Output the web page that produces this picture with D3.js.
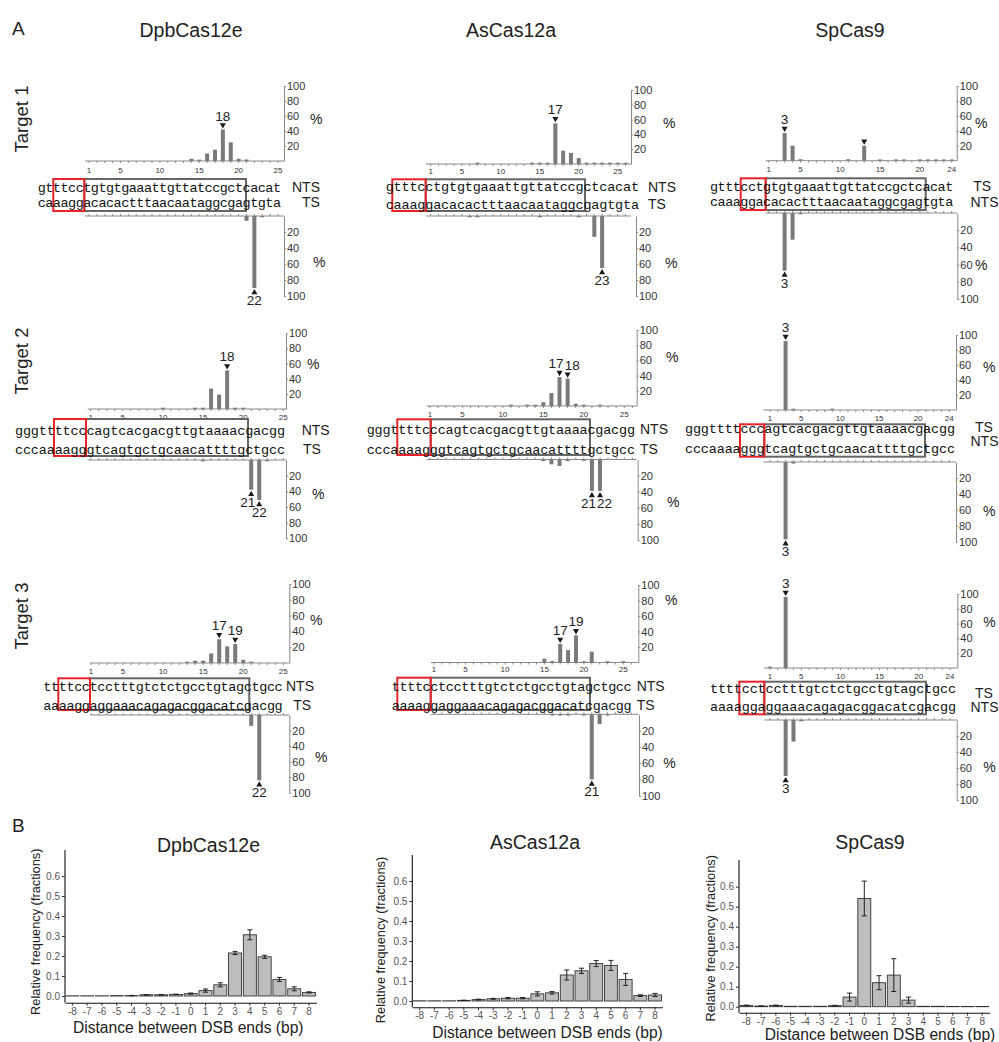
<!DOCTYPE html>
<html><head><meta charset="utf-8">
<script src="https://cdn.jsdelivr.net/npm/d3@7"></script>
<style>
body{margin:0;background:#fff}
text{font-family:"Liberation Sans",Arial,sans-serif;fill:#222}
.seq{font-family:"Liberation Mono","Courier New",monospace}
</style>
</head><body>
<svg id="c" width="999" height="1042"></svg>
<script>
// ---------------- DATA ----------------
const enzymes = ["DpbCas12e", "AsCas12a", "SpCas9"];
const targets = ["Target 1", "Target 2", "Target 3"];
const posTicksCas12 = [1, 5, 10, 15, 20, 25];
const posTicksCas9 = [1, 5, 10, 15, 20, 24];
const pctTicks = [20, 40, 60, 80, 100];

const t1Top = "gtttcctgtgtgaaattgttatccgctcacat";
const t1Bot = "caaaggacacactttaacaataggcgagtgta";
const t2Top = "gggttttcccagtcacgacgttgtaaaacgacgg";
const t2Bot = "cccaaaagggtcagtgctgcaacattttgctgcc";
const t3Top = "ttttcctcctttgtctctgcctgtagctgcc";
const t3Bot = "aaaaggaggaaacagagacggacatcgacgg";

// cleavage frequencies (%) by position, index 0 = position 1
const t1DpbTop = [0,0,0,0,0,0,0,0,0,0,0,0,0,3,1,10,15,42,25,3,2,0,0,0,0];
const t1DpbBot = [0,0,0,0,0,0,0,0,0,0,0,0,0,0,0,0,0,0,0,0,6,90,1,0,0];
const t1AsTop  = [0,0,0,0,0,0,0.3,0,0,0,0,0,0,0.3,0.5,0.5,55,18,15,8,1,1,1,0.5,0.5,1.5];
const t1AsBot  = [0,0,0,0,0,1,1,0,0,0,0,0,0,0,0.5,0,0,0,0,1,0,26,65,0,0,0];
const t1SpTop  = [0,0,37,20,2,0,0,0,0,0,2,0,20,0,1,0,1.5,1,0,1,1,1,1,1.5];
const t1SpBot  = [0,0,67,31,1,0,0,0,0,0,0,0,0,0,0,0,0,0,0,0,0,0,0,0];
const t2DpbTop = [0,0,0,0,0,0,0,0,0,0.5,0,0,0,0.5,0.5,27,19,51,0.5,0.5,0,0,0,0,0];
const t2DpbBot = [0,0,0,0,0,0,0,0,0,0,0,0,0,0,1,0,0,0,0,0,38,51,1,0,0];
const t2AsTop  = [0,0,0,0,0,0,0,0,0,0,0.5,0,0.5,1,5,17,38,36,3,0.5,0,0.5,0,0,0,0];
const t2AsBot  = [0,0,0,0,0,0,0,0,0,0,0,0,0,0,2,6,8,2,0,0.5,39,39,0,0,0,0];
const t2SpTop  = [0,0,92,1,0,0,0,0,1,0,0,0,0,0,0,0,0,0,0,0,0,0,0,0];
const t2SpBot  = [0,0,97,2,0,0,0,0,0,0,0,0,0,0,0,0,0,0,0,0,0,0,0,0];
const t3DpbTop = [0,0,0,0,0,0,0,0,0,0,0,0,0.5,3,3,12,30,21,24,4,0.5,0,0,0,0];
const t3DpbBot = [0,0,0,0,0,0,0,0,0,0,0,0,0,0,0,0,0,0,0,0,14,84,0,0,0];
const t3AsTop  = [0,0,0,0,0,0,0,0,0,0,0,0,0,0,5,2,24,16,35,1,14,0,0.3,0,0.3,0];
const t3AsBot  = [0,0,0,0,0,0,0,0,0,0,0,0,0,0,0,0.5,1,1,0,0.5,80,12,1.5,0,0,0];
const t3SpTop  = [0.5,0,96,0,0,0,0,0,0,0,0,0,0,0,0,0,0,0,0,0,0,0,0,0];
const t3SpBot  = [0,0,70,27,1,0,0,0,0,0,0,0,0,0,0,0,0,0,0,0,0,0,0,0];

// marked cleavage sites (with labels) and unlabeled marks
const markTop = [[18],[17],[3,13],[18],[17,18],[3],[17,19],[17,19],[3]];
const markBot = [[22],[23],[3],[21,22],[21,22],[3],[22],[21],[3]];
const unlabeledMarks = [13];

// Panel B
const distances = [-8,-7,-6,-5,-4,-3,-2,-1,0,1,2,3,4,5,6,7,8];
const bDpbMean = [0.001,0.001,0.001,0.002,0.002,0.006,0.006,0.008,0.012,0.027,0.056,0.215,0.306,0.196,0.083,0.036,0.018];
const bDpbErr  = [0,0,0,0,0.001,0.001,0.001,0.001,0.003,0.008,0.01,0.008,0.025,0.008,0.01,0.01,0.003];
const bAsMean  = [0.001,0.001,0.001,0.003,0.007,0.011,0.014,0.014,0.036,0.041,0.13,0.151,0.187,0.178,0.108,0.027,0.03];
const bAsErr   = [0,0,0,0.001,0.002,0.002,0.003,0.003,0.01,0.006,0.025,0.013,0.015,0.025,0.03,0.004,0.008];
const bSpMean  = [0.006,0.003,0.006,0.002,0.002,0.002,0.005,0.048,0.541,0.12,0.158,0.033,0.002,0.002,0.001,0.001,0.001];
const bSpErr   = [0.002,0.001,0.002,0,0,0,0.002,0.02,0.087,0.035,0.082,0.015,0,0,0,0,0];

// ---------------- LAYOUT ----------------
const layoutA = [
 {ax:284,axb:284,bx0:85,xr:[89,278],ty:[161,86],by:[216,296],ply:170,sx:[37.7,281],sy:[187,202],red:[53.3,84.3],gx1:246,box:[179,211],st:[[292,187],[302,202]],pt:[310,119],pb:[313,262]},
 {ax:631,axb:636,bx0:425.7,xr:[430.7,617.7],ty:[164,90],by:[216,296],ply:170.7,sx:[385.7,639],sy:[186.7,204],red:[392.3,425.7],gx1:585,box:[179.3,211],st:[[648,186.7],[648,204]],pt:[663,122.7],pb:[665,263]},
 {ax:956.7,axb:957.3,bx0:765.7,xr:[768.7,951.7],ty:[160.7,86],by:[213,299],ply:169,sx:[710,953.3],sy:[186,201.7],red:[740.7,765.7],gx1:925.7,box:[178.3,210],st:[[973.3,186],[970.5,201.7]],pt:[975,123.3],pb:[975,265]},
 {ax:286,axb:286,bx0:87.7,xr:[90.7,283.3],ty:[409,333.3],by:[460,538.3],ply:416.7,sx:[15,285],sy:[430,449.3],red:[54,86],gx1:248,box:[419,456],st:[[301.7,430],[303,449.3]],pt:[307,364],pb:[312,494]},
 {ax:636.7,axb:637.7,bx0:426.7,xr:[430,624.3],ty:[406,330],by:[459.5,540],ply:414.3,sx:[366.7,635],sy:[429.3,449.3],red:[397.3,430.7],gx1:590,box:[419.3,455],st:[[640,429.3],[640,449.3]],pt:[666,357],pb:[667,502]},
 {ax:956,axb:956,bx0:763.3,xr:[770,949.3],ty:[410,335],by:[462,541.7],ply:418.3,sx:[685,955],sy:[428.3,448.3],red:[740,764.3],gx1:925,box:[424.3,456.7],st:[[975,427],[970.5,441]],pt:[983,366.7],pb:[983,510.7]},
 {ax:289.3,axb:289.3,bx0:90,xr:[91,283.3],ty:[663,584],by:[715,792.7],ply:671,sx:[43.3,282.7],sy:[686,705],red:[58.3,90],gx1:249.3,box:[678.3,710],st:[[286,686],[293.3,705]],pt:[310,620],pb:[315,756.7]},
 {ax:638.3,axb:639,bx0:431,xr:[434,623.3],ty:[662.5,585],by:[714.3,795.7],ply:669.3,sx:[391.7,631.7],sy:[686,705],red:[397.3,430.7],gx1:590,box:[677.7,710],st:[[636.7,686],[636.7,705]],pt:[665,600],pb:[663.3,763.3]},
 {ax:957.3,axb:956.7,bx0:764.3,xr:[770,950],ty:[668,594],by:[720,800],ply:676,sx:[710,956],sy:[688.3,706.7],red:[739.3,764.3],gx1:926,box:[681.7,714.3],st:[[975,692.7],[970.5,706.7]],pt:[983.3,621.7],pb:[983.3,766.7]}
];

const dataA = [
 {seqT:t1Top,seqB:t1Bot,top:t1DpbTop,bot:t1DpbBot,ticks:posTicksCas12,strands:["NTS","TS"]},
 {seqT:t1Top,seqB:t1Bot,top:t1AsTop,bot:t1AsBot,ticks:posTicksCas12,strands:["NTS","TS"]},
 {seqT:t1Top,seqB:t1Bot,top:t1SpTop,bot:t1SpBot,ticks:posTicksCas9,strands:["TS","NTS"]},
 {seqT:t2Top,seqB:t2Bot,top:t2DpbTop,bot:t2DpbBot,ticks:posTicksCas12,strands:["NTS","TS"]},
 {seqT:t2Top,seqB:t2Bot,top:t2AsTop,bot:t2AsBot,ticks:posTicksCas12,strands:["NTS","TS"]},
 {seqT:t2Top,seqB:t2Bot,top:t2SpTop,bot:t2SpBot,ticks:posTicksCas9,strands:["TS","NTS"]},
 {seqT:t3Top,seqB:t3Bot,top:t3DpbTop,bot:t3DpbBot,ticks:posTicksCas12,strands:["NTS","TS"]},
 {seqT:t3Top,seqB:t3Bot,top:t3AsTop,bot:t3AsBot,ticks:posTicksCas12,strands:["NTS","TS"]},
 {seqT:t3Top,seqB:t3Bot,top:t3SpTop,bot:t3SpBot,ticks:posTicksCas9,strands:["TS","NTS"]}
];

const svg = d3.select("#c");

// headers
svg.append("text").attr("x",12).attr("y",35).attr("font-size",19).text("A");
svg.append("text").attr("x",12).attr("y",832).attr("font-size",19).text("B");
const headerX = [191, 511, 850];
enzymes.forEach((e,i)=>svg.append("text").attr("x",headerX[i]).attr("y",37)
  .attr("text-anchor","middle").attr("font-size",19.5).text(e));
const targetY = [119, 361, 616];
targets.forEach((t,i)=>svg.append("text")
  .attr("transform",`translate(28,${targetY[i]}) rotate(-90)`)
  .attr("text-anchor","middle").attr("font-size",18.5).text(t));

const triUp = d3.symbol().type(d3.symbolTriangle).size(16);

function drawA(P, D, mT, mB) {
  const g = svg.append("g");
  const n = D.top.length;
  const x = d3.scaleLinear().domain([1, D.ticks[D.ticks.length-1]]).range(P.xr);
  const yT = d3.scaleLinear().domain([0,100]).range(P.ty);
  const yB = d3.scaleLinear().domain([0,100]).range(P.by);
  const positions = d3.range(1, n+1);

  // baselines
  [P.ty[0], P.by[0]].forEach(yy=>g.append("line").attr("x1",P.bx0).attr("x2",P.ax)
    .attr("y1",yy).attr("y2",yy).attr("stroke","#8a8a8a").attr("stroke-width",1));
  g.selectAll(".mt").data(positions).join("line")
    .attr("x1",d=>x(d)).attr("x2",d=>x(d)).attr("y1",P.ty[0]).attr("y2",P.ty[0]+2)
    .attr("stroke","#8a8a8a");
  g.selectAll(".mb").data(positions).join("line")
    .attr("x1",d=>x(d)).attr("x2",d=>x(d)).attr("y1",P.by[0]).attr("y2",P.by[0]-2)
    .attr("stroke","#8a8a8a");
  g.selectAll(".pl").data(D.ticks).join("text")
    .attr("x",d=>x(d)).attr("y",P.ply).attr("dy","0.35em").attr("text-anchor","middle")
    .attr("font-size",8).style("fill","#333").text(d=>d);

  // percentage axes
  const styleAxis = sel => {
    sel.select(".domain").attr("stroke","#8a8a8a");
    sel.selectAll(".tick line").attr("stroke","#8a8a8a");
    sel.selectAll(".tick text").attr("font-size",11).attr("fill","#333").style("fill","#333")
      .style("font-family",'"Liberation Sans",Arial,sans-serif');
  };
  g.append("g").attr("transform",`translate(${P.ax},0)`)
    .call(d3.axisRight(yT).tickValues(pctTicks).tickSize(2).tickSizeOuter(0).tickPadding(1)).call(styleAxis);
  g.append("g").attr("transform",`translate(${P.axb},0)`)
    .call(d3.axisRight(yB).tickValues(pctTicks).tickSize(2).tickSizeOuter(0).tickPadding(1)).call(styleAxis);
  g.append("text").attr("x",P.pt[0]).attr("y",P.pt[1]).attr("dy","0.35em").attr("font-size",14).text("%");
  g.append("text").attr("x",P.pb[0]).attr("y",P.pb[1]).attr("dy","0.35em").attr("font-size",14).text("%");

  // bars
  const topD = D.top.map((v,i)=>({p:i+1,v})).filter(d=>d.v>0);
  const botD = D.bot.map((v,i)=>({p:i+1,v})).filter(d=>d.v>0);
  const bw = 4;
  g.selectAll(".bt").data(topD).join("rect")
    .attr("x",d=>x(d.p)-bw/2).attr("width",bw)
    .attr("y",d=>Math.min(yT(d.v), yT(0)-1.3)).attr("height",d=>Math.max(yT(0)-yT(d.v),1.3))
    .attr("fill","#7a7a7a");
  g.selectAll(".bb").data(botD).join("rect")
    .attr("x",d=>x(d.p)-bw/2).attr("width",bw)
    .attr("y",yB(0)).attr("height",d=>Math.max(yB(d.v)-yB(0),1.3))
    .attr("fill","#7a7a7a");

  // marks and labels
  const placeLabels = (marks, vals, up) => {
    marks.forEach(p=>{
      const v = vals[p-1];
      const ye = up ? yT(v) : yB(v);
      const tri = up ? ye-4.5 : ye+4.5;
      g.append("path").attr("d",triUp()).attr("fill","#1a1a1a")
        .attr("transform",`translate(${x(p)},${tri}) rotate(${up?180:0})`);
      if (unlabeledMarks.includes(p)) return;
      let anchor = "middle", dx = 0;
      if (marks.includes(p+1)) { anchor = "end"; dx = 4; }
      else if (marks.includes(p-1) && Math.abs(vals[p-2]-v) < 6) { anchor = "start"; dx = -3; }
      g.append("text").attr("x",x(p)+dx).attr("y",up ? ye-9 : ye+17)
        .attr("text-anchor",anchor).attr("font-size",13.5).text(p);
    });
  };
  placeLabels(mT, D.top, true);
  placeLabels(mB, D.bot, false);

  // sequences
  g.append("rect").attr("x",P.red[1]).attr("y",P.box[0]).attr("width",P.gx1-P.red[1])
    .attr("height",P.box[1]-P.box[0]).attr("fill","none").attr("stroke","#666").attr("stroke-width",2);
  g.append("rect").attr("x",P.red[0]).attr("y",P.box[0]).attr("width",P.red[1]-P.red[0])
    .attr("height",P.box[1]-P.box[0]).attr("fill","none").attr("stroke","#e8242a").attr("stroke-width",2);
  [D.seqT, D.seqB].forEach((s,i)=>g.append("text").attr("class","seq")
    .attr("x",P.sx[0]).attr("y",P.sy[i]).attr("dy","0.35em")
    .attr("textLength",P.sx[1]-P.sx[0]).attr("lengthAdjust","spacing")
    .attr("font-size",13.5).style("fill","#111").text(s));
  D.strands.forEach((s,i)=>g.append("text").attr("x",P.st[i][0]).attr("y",P.st[i][1])
    .attr("dy","0.35em").attr("font-size",14).text(s));
}

layoutA.forEach((P,i)=>drawA(P, dataA[i], markTop[i], markBot[i]));

// ---------------- PANEL B ----------------
const layoutB = [
 {xr:[65,316.4],y0:996,axTop:850,axBot:1002.7,title:[208.5,852],yt:[39.5,931.7],xt:[188.3,1033]},
 {xr:[412.3,662.4],y0:1001,axTop:855,axBot:1007.3,title:[535,849],yt:[384.5,940],xt:[547.5,1038]},
 {xr:[739,989.6],y0:1006.7,axTop:860,axBot:1012.7,title:[870,849],yt:[714.5,938.3],xt:[880,1039.5]}
];
const dataB = [[bDpbMean,bDpbErr],[bAsMean,bAsErr],[bSpMean,bSpErr]];

function drawB(P, title, means, errs) {
  const g = svg.append("g");
  const x = d3.scaleBand().domain(distances).range(P.xr).paddingInner(0.12).paddingOuter(0.06);
  const y = d3.scaleLinear().domain([0,0.1]).range([P.y0, P.y0-20]);
  const rows = distances.map((d,i)=>({d, m:means[i], e:errs[i]}));

  g.append("line").attr("x1",P.xr[0]).attr("x2",P.xr[0]).attr("y1",P.axTop).attr("y2",P.axBot)
    .attr("stroke","#111").attr("stroke-width",1.1);
  const ya = g.append("g").attr("transform",`translate(${P.xr[0]},0)`)
    .call(d3.axisLeft(y).tickValues([0,0.1,0.2,0.3,0.4,0.5,0.6]).tickFormat(d3.format(".1f")).tickSize(3).tickPadding(2));
  ya.select(".domain").remove();
  const xa = g.append("g").attr("transform",`translate(0,${P.axBot})`)
    .call(d3.axisBottom(x).tickSize(3).tickPadding(2).tickSizeOuter(0));
  xa.select(".domain").attr("stroke","#111").attr("stroke-width",1.1);
  [ya, xa].forEach(a=>{
    a.selectAll(".tick line").attr("stroke","#333");
    a.selectAll(".tick text").attr("font-size",10).style("fill","#555")
      .style("font-family",'"Liberation Sans",Arial,sans-serif');
  });

  g.selectAll(".bar").data(rows).join("rect")
    .attr("x",r=>x(r.d)).attr("width",x.bandwidth())
    .attr("y",r=>y(r.m)).attr("height",r=>y(0)-y(r.m))
    .attr("fill","#bdbdbd").attr("stroke","#333").attr("stroke-width",0.9);
  const eb = rows.filter(r=>r.e>0);
  g.selectAll(".ev").data(eb).join("line")
    .attr("x1",r=>x(r.d)+x.bandwidth()/2).attr("x2",r=>x(r.d)+x.bandwidth()/2)
    .attr("y1",r=>y(r.m-r.e)).attr("y2",r=>y(r.m+r.e)).attr("stroke","#222");
  ["lo","hi"].forEach(k=>g.selectAll(".c"+k).data(eb).join("line")
    .attr("x1",r=>x(r.d)+x.bandwidth()/2-2.5).attr("x2",r=>x(r.d)+x.bandwidth()/2+2.5)
    .attr("y1",r=>y(k==="lo"?r.m-r.e:r.m+r.e)).attr("y2",r=>y(k==="lo"?r.m-r.e:r.m+r.e))
    .attr("stroke","#222"));

  g.append("text").attr("x",P.title[0]).attr("y",P.title[1]).attr("text-anchor","middle")
    .attr("font-size",19.5).text(title);
  g.append("text").attr("transform",`translate(${P.yt[0]},${P.yt[1]}) rotate(-90)`)
    .attr("text-anchor","middle").attr("font-size",12.8).text("Relative frequency (fractions)");
  g.append("text").attr("x",P.xt[0]).attr("y",P.xt[1]).attr("text-anchor","middle")
    .attr("font-size",15.6).text("Distance between DSB ends (bp)");
}
layoutB.forEach((P,i)=>drawB(P, enzymes[i], dataB[i][0], dataB[i][1]));
</script>
</body></html>
